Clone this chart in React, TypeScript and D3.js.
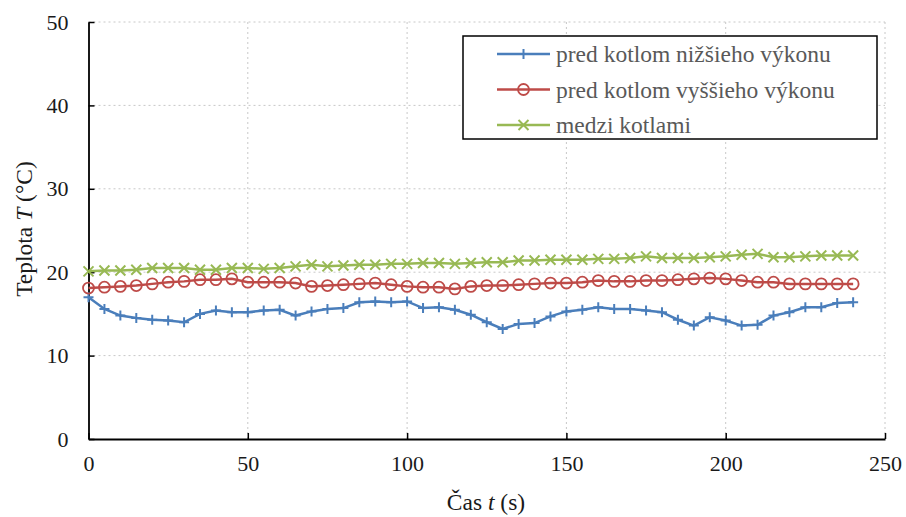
import React, { useRef, useEffect } from 'react'
import * as d3 from 'd3'

// time points (s)
const times = [
  0, 5, 10, 15, 20, 25, 30, 35, 40, 45, 50, 55, 60, 65, 70, 75, 80, 85, 90, 95,
  100, 105, 110, 115, 120, 125, 130, 135, 140, 145, 150, 155, 160, 165, 170, 175, 180, 185, 190, 195,
  200, 205, 210, 215, 220, 225, 230, 235, 240,
]

const nizsieho = [
  17.0, 15.6, 14.8, 14.5, 14.3, 14.2, 14.0, 15.0, 15.4, 15.2, 15.2, 15.4, 15.5, 14.8, 15.3, 15.6, 15.7, 16.4, 16.5, 16.4,
  16.5, 15.7, 15.8, 15.5, 14.9, 14.0, 13.2, 13.8, 13.9, 14.7, 15.3, 15.5, 15.8, 15.6, 15.6, 15.4, 15.2, 14.3, 13.6, 14.6,
  14.2, 13.6, 13.7, 14.8, 15.2, 15.8, 15.8, 16.3, 16.4,
]

const vyssieho = [
  18.1, 18.2, 18.3, 18.4, 18.6, 18.8, 18.9, 19.1, 19.1, 19.2, 18.8, 18.8, 18.8, 18.7, 18.3, 18.4, 18.5, 18.6, 18.7, 18.5,
  18.3, 18.2, 18.2, 18.0, 18.3, 18.4, 18.4, 18.5, 18.6, 18.7, 18.7, 18.8, 19.0, 18.9, 18.9, 19.0, 19.0, 19.1, 19.2, 19.3,
  19.2, 19.0, 18.8, 18.8, 18.6, 18.6, 18.6, 18.6, 18.6,
]

const medzi = [
  20.1, 20.2, 20.2, 20.3, 20.5, 20.5, 20.5, 20.3, 20.3, 20.5, 20.5, 20.4, 20.5, 20.7, 20.9, 20.7, 20.8, 20.9, 20.9, 21.0,
  21.0, 21.1, 21.1, 21.0, 21.1, 21.2, 21.2, 21.4, 21.4, 21.5, 21.5, 21.5, 21.6, 21.6, 21.7, 21.9, 21.7, 21.7, 21.7, 21.8,
  21.9, 22.1, 22.2, 21.8, 21.8, 21.9, 22.0, 22.0, 22.0,
]

const seriesNames = ['pred kotlom nižšieho výkonu', 'pred kotlom vyššieho výkonu', 'medzi kotlami']
const seriesColors = ['#4a7ebb', '#be4b48', '#98b954']
const seriesMarkers = ['plus', 'circle', 'cross']

const xTicks = [0, 50, 100, 150, 200, 250]
const yTicks = [0, 10, 20, 30, 40, 50]

const W = 906
const H = 517
const margin = { left: 88.5, right: 21, top: 22, bottom: 78 }
const FONT = '"Liberation Serif", "Times New Roman", serif'

const drawMarker = (g, kind, x, y, color) => {
  if (kind === 'plus') {
    g.append('path').attr('d', `M${x - 5},${y}H${x + 5}M${x},${y - 5}V${y + 5}`)
      .attr('stroke', color).attr('stroke-width', 2).attr('fill', 'none')
  } else if (kind === 'circle') {
    g.append('circle').attr('cx', x).attr('cy', y).attr('r', 5.5)
      .attr('stroke', color).attr('stroke-width', 1.8).attr('fill', 'none')
  } else {
    g.append('path').attr('d', `M${x - 5},${y - 5}L${x + 5},${y + 5}M${x - 5},${y + 5}L${x + 5},${y - 5}`)
      .attr('stroke', color).attr('stroke-width', 2).attr('fill', 'none')
  }
}

const App = () => {
  const svgRef = useRef(null)

  useEffect(() => {
    const svg = d3.select(svgRef.current)
    svg.selectAll('*').remove()

    const xScale = d3.scaleLinear().domain([0, 250]).range([margin.left, W - margin.right])
    const yScale = d3.scaleLinear().domain([0, 50]).range([H - margin.bottom, margin.top])

    // grid
    svg.append('g').selectAll('line').data(yTicks.slice(1)).join('line')
      .attr('x1', margin.left).attr('x2', W - margin.right)
      .attr('y1', d => yScale(d)).attr('y2', d => yScale(d))
      .attr('stroke', '#c8c8c8').attr('stroke-width', 1).attr('stroke-dasharray', '2,3')
    svg.append('g').selectAll('line').data(xTicks.slice(1)).join('line')
      .attr('y1', margin.top).attr('y2', H - margin.bottom)
      .attr('x1', d => xScale(d)).attr('x2', d => xScale(d))
      .attr('stroke', '#c8c8c8').attr('stroke-width', 1).attr('stroke-dasharray', '2,3')

    // axes
    const xAxis = svg.append('g').attr('transform', `translate(0,${H - margin.bottom})`)
      .call(d3.axisBottom(xScale).tickValues(xTicks).tickSizeInner(-6).tickSizeOuter(0).tickPadding(16))
    const yAxis = svg.append('g').attr('transform', `translate(${margin.left},0)`)
      .call(d3.axisLeft(yScale).tickValues(yTicks).tickSizeInner(-6).tickSizeOuter(0).tickPadding(20))
    for (const ax of [xAxis, yAxis]) {
      ax.select('.domain').attr('stroke', '#000').attr('stroke-width', 1.8)
      ax.selectAll('.tick line').attr('stroke', '#000').attr('stroke-width', 1.5)
      ax.selectAll('.tick text').attr('font-family', FONT).attr('font-size', 22).attr('fill', '#1a1a1a')
    }

    // series
    const allSeries = [nizsieho, vyssieho, medzi]
    const line = d3.line().x(d => xScale(d[0])).y(d => yScale(d[1]))
    allSeries.forEach((vals, i) => {
      const pts = times.map((t, j) => [t, vals[j]])
      const g = svg.append('g')
      g.append('path').datum(pts).attr('d', line)
        .attr('fill', 'none').attr('stroke', seriesColors[i]).attr('stroke-width', 2.5)
      pts.forEach(p => drawMarker(g, seriesMarkers[i], xScale(p[0]), yScale(p[1]), seriesColors[i]))
    })

    // legend
    const lg = svg.append('g')
    lg.append('rect').attr('x', 463).attr('y', 36).attr('width', 414).attr('height', 103)
      .attr('fill', '#fff').attr('stroke', '#000').attr('stroke-width', 1.5)
    seriesNames.forEach((name, i) => {
      const y = 54 + i * 35.5
      lg.append('line').attr('x1', 497).attr('x2', 550).attr('y1', y).attr('y2', y)
        .attr('stroke', seriesColors[i]).attr('stroke-width', 2.5)
      drawMarker(lg, seriesMarkers[i], 523.5, y, seriesColors[i])
      lg.append('text').attr('x', 556).attr('y', y).attr('dy', '0.35em')
        .attr('font-family', FONT).attr('font-size', 23.5).attr('fill', '#595959').text(name)
    })

    // axis titles
    const xt = svg.append('text').attr('x', 486).attr('y', 510)
      .attr('text-anchor', 'middle').attr('font-family', FONT).attr('font-size', 23.5).attr('fill', '#1a1a1a')
    xt.append('tspan').text('Čas ')
    xt.append('tspan').attr('font-style', 'italic').text('t')
    xt.append('tspan').text(' (s)')

    const yt = svg.append('text').attr('transform', `translate(32,229) rotate(-90)`)
      .attr('text-anchor', 'middle').attr('font-family', FONT).attr('font-size', 23.5).attr('fill', '#1a1a1a')
    yt.append('tspan').text('Teplota ')
    yt.append('tspan').attr('font-style', 'italic').text('T')
    yt.append('tspan').text(' (°C)')
  }, [])

  return (
    <svg ref={svgRef} width={W} height={H}
      style={{ position: 'absolute', left: 0, top: 0, background: '#fff' }} />
  )
}

export default App
